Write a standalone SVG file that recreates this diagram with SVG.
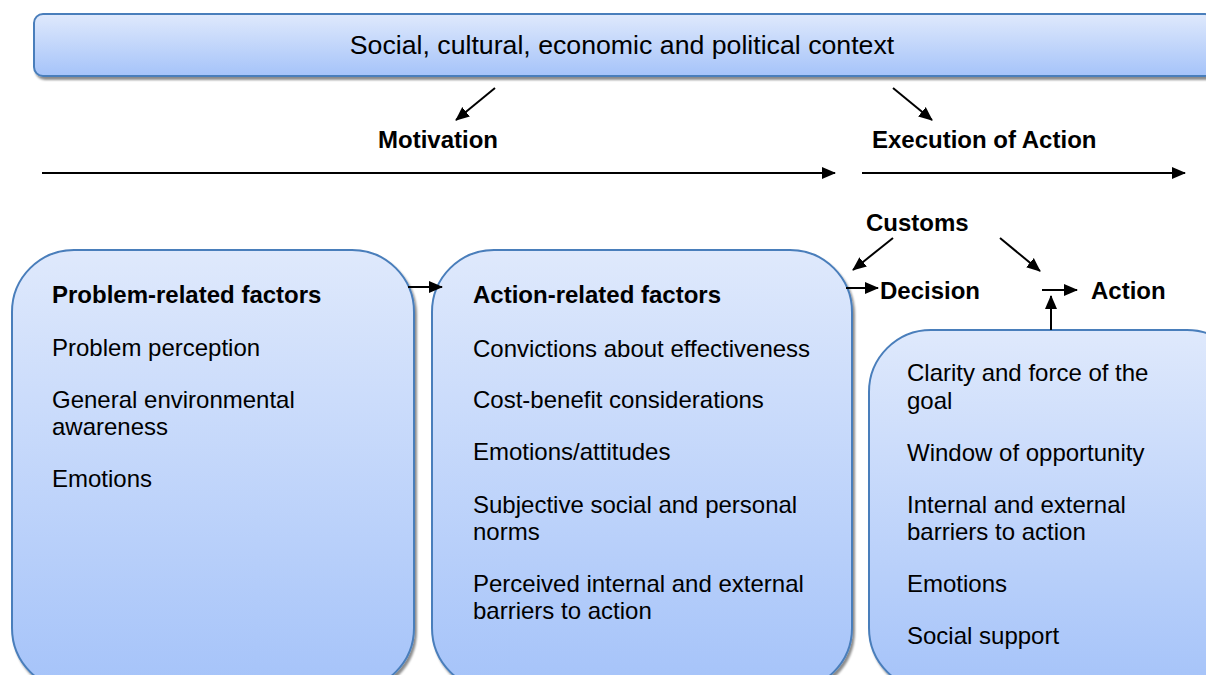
<svg xmlns="http://www.w3.org/2000/svg" width="1206" height="675" viewBox="0 0 1206 675">
<defs>
<linearGradient id="g" x1="0" y1="0" x2="0" y2="1">
<stop offset="0" stop-color="#dfe9fc"/>
<stop offset="1" stop-color="#a5c3f9"/>
</linearGradient>
<filter id="sh" x="-5%" y="-5%" width="115%" height="120%">
<feOffset in="SourceAlpha" dx="2" dy="3" result="o"/>
<feGaussianBlur in="o" stdDeviation="1.2" result="b"/>
<feColorMatrix in="b" type="matrix" values="0 0 0 0 0  0 0 0 0 0  0 0 0 0 0  0 0 0 0.45 0" result="c"/>
<feMerge><feMergeNode in="c"/><feMergeNode in="SourceGraphic"/></feMerge>
</filter>
<marker id="ah2" markerWidth="14" markerHeight="14" refX="13" refY="7" orient="auto" markerUnits="userSpaceOnUse">
<path d="M0,1 L14,7 L0,13 Z" fill="#000"/>
</marker>
</defs>
<style>
.box{fill:url(#g);stroke:#4a7ebb;stroke-width:2;filter:url(#sh)}
.t{font-family:"Liberation Sans",Arial,sans-serif;font-size:24px;fill:#000}
.b{font-weight:bold}
.c{stroke:#000;stroke-width:2;fill:none}
</style>
<g id="context">
<rect class="box" x="34" y="14" width="1180" height="62" rx="9"/>
<text class="t" x="622" y="54" text-anchor="middle" style="font-size:26.7px">Social, cultural, economic and political context</text>
</g>
<g id="labels">
<text class="t b" x="378" y="147.5">Motivation</text>
<text class="t b" x="872" y="147.5">Execution of Action</text>
<text class="t b" x="866" y="230.5">Customs</text>
<text class="t b" x="880" y="298.5">Decision</text>
<text class="t b" x="1091" y="298.5">Action</text>
</g>
<g id="problem">
<rect class="box" x="12" y="250" width="402" height="440" rx="62"/>
<text class="t b" x="52" y="303">Problem-related factors</text>
<text class="t" x="52" y="356">Problem perception</text>
<text class="t" x="52" y="408">General environmental</text>
<text class="t" x="52" y="435">awareness</text>
<text class="t" x="52" y="487">Emotions</text>
</g>
<g id="action-factors">
<rect class="box" x="432" y="250" width="420" height="440" rx="62"/>
<text class="t b" x="473" y="303">Action-related factors</text>
<text class="t" x="473" y="357">Convictions about effectiveness</text>
<text class="t" x="473" y="408">Cost-benefit considerations</text>
<text class="t" x="473" y="460">Emotions/attitudes</text>
<text class="t" x="473" y="513">Subjective social and personal</text>
<text class="t" x="473" y="540">norms</text>
<text class="t" x="473" y="592">Perceived internal and external</text>
<text class="t" x="473" y="619">barriers to action</text>
</g>
<g id="execution">
<rect class="box" x="869" y="330" width="380" height="360" rx="62"/>
<text class="t" x="907" y="381">Clarity and force of the</text>
<text class="t" x="907" y="409">goal</text>
<text class="t" x="907" y="461">Window of opportunity</text>
<text class="t" x="907" y="513">Internal and external</text>
<text class="t" x="907" y="540">barriers to action</text>
<text class="t" x="907" y="592">Emotions</text>
<text class="t" x="907" y="644">Social support</text>
</g>
<g id="connectors">
<line class="c" x1="495" y1="88" x2="456" y2="120" marker-end="url(#ah2)"/>
<line class="c" x1="893" y1="88" x2="932" y2="120" marker-end="url(#ah2)"/>
<line class="c" x1="42" y1="173" x2="835" y2="173" marker-end="url(#ah2)"/>
<line class="c" x1="862" y1="173" x2="1185" y2="173" marker-end="url(#ah2)"/>
<line class="c" x1="893" y1="238" x2="853" y2="270" marker-end="url(#ah2)"/>
<line class="c" x1="1000" y1="238" x2="1040" y2="271" marker-end="url(#ah2)"/>
<line class="c" x1="408" y1="287" x2="442" y2="287" marker-end="url(#ah2)"/>
<line class="c" x1="846" y1="288" x2="878" y2="288" marker-end="url(#ah2)"/>
<line class="c" x1="1042" y1="290" x2="1077" y2="290" marker-end="url(#ah2)"/>
<line class="c" x1="1051" y1="330" x2="1051" y2="296" marker-end="url(#ah2)"/>
</g>
</svg>
